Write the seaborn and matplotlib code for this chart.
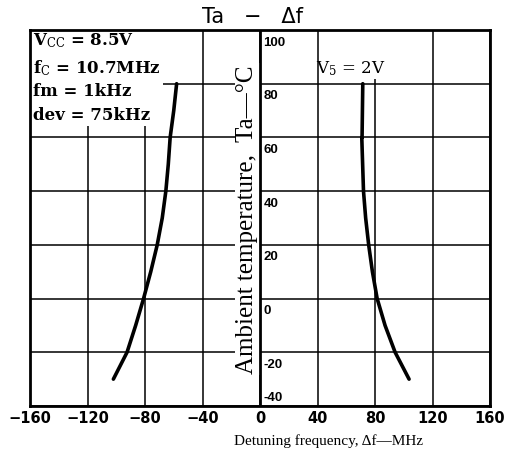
import numpy as np
import pandas as pd
import matplotlib.pyplot as plt
import seaborn as sns
from matplotlib.patches import Rectangle

# Values (Ta vs detuning frequency)
temp_left = [80, 70, 60, 50, 40, 30, 20, 10, 0, -10, -20, -30]
detune_left = [-58, -60, -62.5, -63.8, -65.5, -68, -71.5, -76, -81, -86.5, -92.5, -102]
temp_right = [80, 70, 60, 50, 40, 30, 20, 10, 0, -10, -20, -30]
detune_right = [71.5, 71, 70.8, 71, 72, 73.5, 75.6, 78.2, 81.5, 87, 94, 103.7]

x_ticks = [-160, -120, -80, -40, 0, 40, 80, 120, 160]
y_ticks = [-40, -20, 0, 20, 40, 60, 80, 100]

conditions = [r'V$_{\mathrm{CC}}$ = 8.5V', r'f$_{\mathrm{C}}$ = 10.7MHz', 'fm = 1kHz', 'dev = 75kHz']

sns.set_style('white')
plt.rcParams['font.family'] = ['DejaVu Sans']
plt.rcParams['mathtext.fontset'] = 'dejavuserif'
plt.rcParams['text.color'] = 'black'
plt.rcParams['xtick.color'] = 'black'
plt.rcParams['ytick.color'] = 'black'

left = pd.DataFrame({'df': detune_left, 'Ta': temp_left})
right = pd.DataFrame({'df': detune_right, 'Ta': temp_right})

fig = plt.figure(figsize=(5.05, 4.64), dpi=100)
ax = fig.add_axes([30 / 505, 1 - 407 / 464, 460 / 505, 376 / 464])

sns.lineplot(data=left, x='df', y='Ta', sort=False, color='black', lw=2.6, ax=ax, zorder=5)
sns.lineplot(data=right, x='df', y='Ta', sort=False, color='black', lw=2.6, ax=ax, zorder=5)

ax.set_xlim(-160, 160)
ax.set_ylim(-40, 100)
ax.set_xticks(x_ticks)
ax.set_yticks(y_ticks)
ax.set_yticklabels([])
ax.grid(True, color='black', lw=1.1)
ax.axvline(0, color='black', lw=2, zorder=8)
ax.tick_params(length=0, pad=3)
for lbl in ax.get_xticklabels():
    lbl.set_fontweight('bold')
    lbl.set_fontsize(10.5)
    lbl.set_color('black')
for s in ax.spines.values():
    s.set_color('black')
    s.set_linewidth(2)
    s.set_zorder(10)
ax.set_xlabel('')
ax.set_ylabel('')

# y tick labels sit inside, right of the centre line
for v in y_ticks:
    yy = v - 4.3 if v > -40 else -36.6
    ax.text(2.5, yy, str(v), ha='left', va='center',
            fontsize=9.5, fontweight='bold', family='Liberation Sans', zorder=6)

# white box behind the conditions
ax.add_patch(Rectangle((0, 0.745), 0.289, 0.26, transform=ax.transAxes,
                       facecolor='white', edgecolor='none', zorder=3))
ys = [0.974, 0.902, 0.840, 0.774]
for t, yy in zip(conditions, ys):
    ax.text(0.006, yy, t, transform=ax.transAxes, ha='left', va='center',
            fontsize=12, family='DejaVu Serif', fontweight='bold', zorder=6)

ax.add_patch(Rectangle((0.632, 0.87), 0.14, 0.13, transform=ax.transAxes,
                       facecolor='white', edgecolor='none', zorder=3))
ax.text(0.697, 0.90, r'V$_5$ = 2V', transform=ax.transAxes, ha='center', va='center',
        fontsize=12, family='DejaVu Serif', zorder=6)

ax.text(0.472, 0.497, 'Ambient temperature,  Ta—°C', transform=ax.transAxes, rotation=90,
        ha='center', va='center', fontsize=18, family='Liberation Serif', zorder=6,
        bbox=dict(facecolor='white', edgecolor='none', pad=1))

fig.text(0.5, 1 - 17 / 464, 'Ta   −   Δf', ha='center', va='center', fontsize=15)
fig.text(328 / 505, 1 - 441 / 464, 'Detuning frequency, Δf—MHz', ha='center', va='center',
         fontsize=11, family='Liberation Serif')

fig.savefig('out.png', dpi=100)
